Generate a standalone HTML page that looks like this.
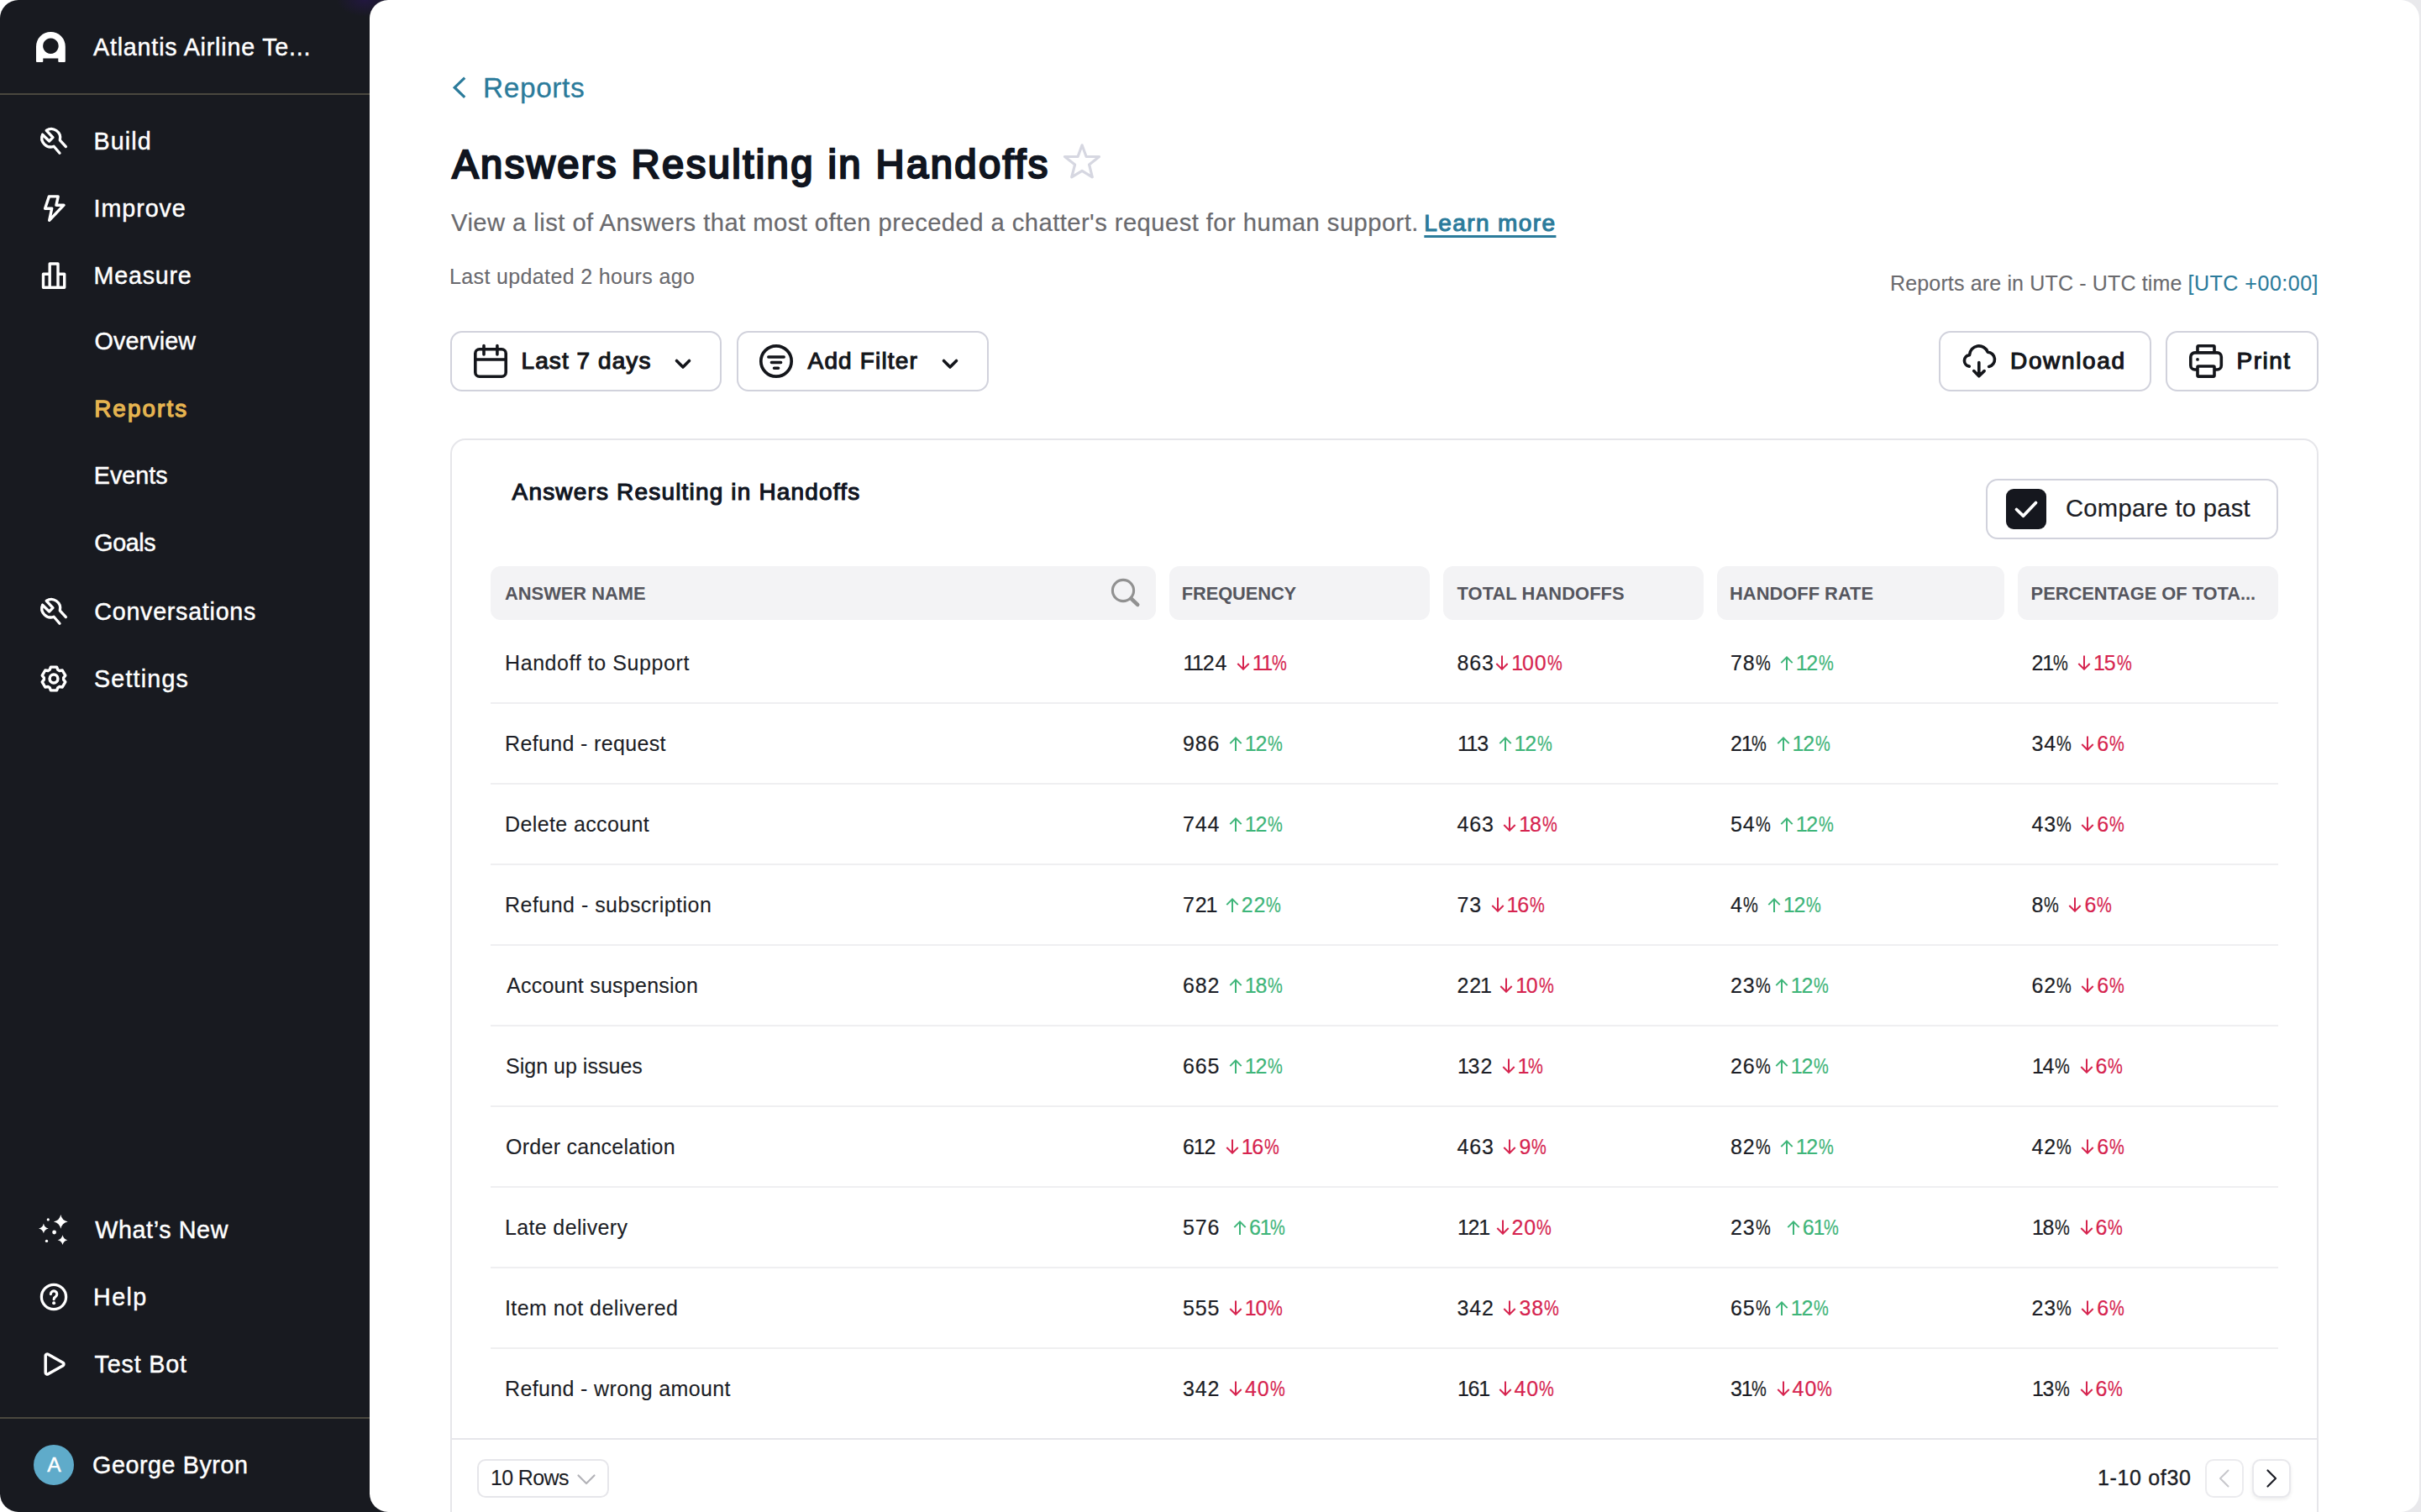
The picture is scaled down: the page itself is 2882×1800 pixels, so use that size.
<!DOCTYPE html>
<html lang="en"><head><meta charset="utf-8"><title>Answers Resulting in Handoffs</title>
<style>
html,body{margin:0;padding:0}
body{width:2882px;height:1800px;overflow:hidden;position:relative;background:#fff;font-family:"Liberation Sans", sans-serif;}
#bg{position:absolute;left:0;top:0;width:2882px;height:1800px;background:#e9e9ec;}
#side{position:absolute;left:0;top:0;width:470px;height:1800px;background:#181a20;border-radius:22px 0 0 22px;}
#glow{position:absolute;left:400px;top:0;width:70px;height:20px;background:radial-gradient(ellipse at 50% 0%,rgba(45,20,100,.45),rgba(45,20,100,0) 70%);}
#main{position:absolute;left:440px;top:0;width:2440px;height:1800px;background:#fff;border-radius:22px 22px 22px 22px;}
.hr{position:absolute;left:0;width:440px;height:2px;background:#4a473f;}
.t{position:absolute;white-space:pre;line-height:60px;}
.w{-webkit-text-stroke:0.45px #fff;}
.b{position:absolute;box-sizing:border-box;}
.i{position:absolute;overflow:visible;}
.c{position:absolute;white-space:pre;font-size:25.0px;line-height:60px;color:#1c1e26;letter-spacing:0.9px;-webkit-text-stroke:0.2px;}
.c .ar{display:inline-block;vertical-align:baseline;}
.o{margin:0 -2.1px;}
.o.f{margin-left:0.4px;}
.pc{display:inline-block;transform:scaleX(.8);transform-origin:0 50%;margin-right:-4.5px;}
#av{position:absolute;left:40px;top:1720px;width:48px;height:48px;border-radius:50%;background:#5fabca;}
</style></head><body>
<div id="bg"></div>
<div id="corner" style="position:absolute;left:0;top:0;width:40px;height:1800px;background:#fff"></div>
<div id="side"></div><div id="glow"></div>
<div class="hr" style="top:111px"></div><div class="hr" style="top:1687px"></div>
<div id="av"></div>
<div id="main"></div>
<div class="b" style="left:536px;top:394px;width:323px;height:72px;border:2px solid #d1d2dc;border-radius:14px;background:#fff;"></div>
<div class="b" style="left:877px;top:394px;width:300px;height:72px;border:2px solid #d1d2dc;border-radius:14px;background:#fff;"></div>
<div class="b" style="left:2308px;top:394px;width:253px;height:72px;border:2px solid #d1d2dc;border-radius:14px;background:#fff;"></div>
<div class="b" style="left:2578px;top:394px;width:182px;height:72px;border:2px solid #d1d2dc;border-radius:14px;background:#fff;"></div>
<div class="b" style="left:536px;top:522px;width:2224px;height:1300px;border:2px solid #e6e6ea;border-radius:18px;background:#fff;"></div>
<div class="b" style="left:2364px;top:570px;width:348px;height:72px;border:2px solid #d1d2dc;border-radius:14px;background:#fff;"></div>
<div class="b" style="left:2388px;top:582px;width:48px;height:48px;border-radius:9px;background:#15171e;"></div>
<div class="b" style="left:584px;top:674px;width:792px;height:64px;border-radius:12px;background:#f3f3f5;"></div>
<div class="b" style="left:1392px;top:674px;width:310px;height:64px;border-radius:12px;background:#f3f3f5;"></div>
<div class="b" style="left:1718px;top:674px;width:310px;height:64px;border-radius:12px;background:#f3f3f5;"></div>
<div class="b" style="left:2044px;top:674px;width:342px;height:64px;border-radius:12px;background:#f3f3f5;"></div>
<div class="b" style="left:2402px;top:674px;width:310px;height:64px;border-radius:12px;background:#f3f3f5;"></div>
<div class="b" style="left:584px;top:836px;width:2128px;height:2px;background:#efeff1;"></div>
<div class="b" style="left:584px;top:932px;width:2128px;height:2px;background:#efeff1;"></div>
<div class="b" style="left:584px;top:1028px;width:2128px;height:2px;background:#efeff1;"></div>
<div class="b" style="left:584px;top:1124px;width:2128px;height:2px;background:#efeff1;"></div>
<div class="b" style="left:584px;top:1220px;width:2128px;height:2px;background:#efeff1;"></div>
<div class="b" style="left:584px;top:1316px;width:2128px;height:2px;background:#efeff1;"></div>
<div class="b" style="left:584px;top:1412px;width:2128px;height:2px;background:#efeff1;"></div>
<div class="b" style="left:584px;top:1508px;width:2128px;height:2px;background:#efeff1;"></div>
<div class="b" style="left:584px;top:1604px;width:2128px;height:2px;background:#efeff1;"></div>
<div class="b" style="left:538px;top:1712px;width:2220px;height:2px;background:#e6e6ea;"></div>
<div class="b" style="left:568px;top:1737px;width:157px;height:46px;border:2px solid #e6e6ea;border-radius:10px;background:#fff;"></div>
<div class="b" style="left:2625px;top:1737px;width:46px;height:46px;border:2px solid #ebebee;border-radius:10px;background:#fff;"></div>
<div class="b" style="left:2681px;top:1737px;width:46px;height:46px;border:2px solid #e8e8ec;border-radius:10px;background:#fff;box-shadow:0 2px 4px rgba(0,0,0,.08);"></div>
<svg class="i" style="left:42.8px;top:37.8px" width="34.8" height="36" viewBox="0 0 34.8 36"><path fill-rule="evenodd" fill="#fff" d="M0 35 V17.4 A17.4 17.4 0 0 1 34.8 17.4 V35 a1 1 0 0 1 -1 1 H27.3 a1 1 0 0 1 -1 -1 V31.4 H8.3 V35 a1 1 0 0 1 -1 1 H1 a1 1 0 0 1 -1 -1 Z M17.4 7.4 a9.3 9.3 0 1 0 0.001 0 Z"/></svg>
<svg class="i" style="left:48px;top:152px" width="32" height="32" viewBox="0 0 32 32"><path d="M7.2 3.3 A10.6 10.6 0 0 1 23.3 14.8 L30.4 22.6 M2.6 8.2 A10.6 10.6 0 0 0 16.1 22.2 L23 30.3 M2.6 8.2 L10.6 16 L15 11.6 L7.2 3.3" fill="none" stroke="#fff" stroke-width="3.3" stroke-linecap="round" stroke-linejoin="round"/></svg>
<svg class="i" style="left:48px;top:232px" width="32" height="32" viewBox="0 0 32 32"><path d="M10.4 1.9 H21.2 L19 12.2 H28 L10.7 30.3 L13.7 16.2 H5.6 Z" fill="none" stroke="#fff" stroke-width="3.4" stroke-linejoin="round"/></svg>
<svg class="i" style="left:48px;top:312px" width="32" height="32" viewBox="0 0 32 32"><path d="M3.5 30.3 V14.3 H11.2 V2 H21 V14.3 H28.7 V30.3 Z M11.2 14.3 V30.3 M21 14.3 V30.3" fill="none" stroke="#fff" stroke-width="3.4" stroke-linejoin="round"/></svg>
<svg class="i" style="left:48px;top:712px" width="32" height="32" viewBox="0 0 32 32"><path d="M7.2 3.3 A10.6 10.6 0 0 1 23.3 14.8 L30.4 22.6 M2.6 8.2 A10.6 10.6 0 0 0 16.1 22.2 L23 30.3 M2.6 8.2 L10.6 16 L15 11.6 L7.2 3.3" fill="none" stroke="#fff" stroke-width="3.3" stroke-linecap="round" stroke-linejoin="round"/></svg>
<svg class="i" style="left:48px;top:792px" width="32" height="32" viewBox="0 0 32 32"><path d="M11.15 5.35 L12.42 2.16 L19.58 2.16 L20.85 5.35 L22.79 6.47 L26.20 5.98 L29.78 12.18 L27.65 14.88 L27.65 17.12 L29.78 19.82 L26.20 26.02 L22.79 25.53 L20.85 26.65 L19.58 29.84 L12.42 29.84 L11.15 26.65 L9.21 25.53 L5.80 26.02 L2.22 19.82 L4.35 17.12 L4.35 14.88 L2.22 12.18 L5.80 5.98 L9.21 6.47 Z" fill="none" stroke="#fff" stroke-width="3.4" stroke-linejoin="round"/><circle cx="16" cy="16" r="4.9" fill="none" stroke="#fff" stroke-width="3.5"/></svg>
<svg class="i" style="left:44px;top:1444px" width="40" height="40" viewBox="0 0 40 40"><path d="M28.3 2.0 Q29.728 8.972 36.7 10.4 Q29.728 11.828000000000001 28.3 18.8 Q26.872 11.828000000000001 19.9 10.4 Q26.872 8.972 28.3 2.0 Z" fill="#fff"/><path d="M7.9 12.499999999999998 Q8.903 17.397 13.8 18.4 Q8.903 19.403 7.9 24.299999999999997 Q6.897 19.403 2.0 18.4 Q6.897 17.397 7.9 12.499999999999998 Z" fill="#fff"/><path d="M30.5 26.300000000000004 Q31.503 31.197000000000003 36.4 32.2 Q31.503 33.203 30.5 38.1 Q29.497 33.203 24.6 32.2 Q29.497 31.197000000000003 30.5 26.300000000000004 Z" fill="#fff"/><circle cx="13.3" cy="7.9" r="1.6" fill="#fff"/><circle cx="20.6" cy="23" r="2.4" fill="#fff"/><circle cx="11.5" cy="33.4" r="1.7" fill="#fff"/></svg>
<svg class="i" style="left:48px;top:1528px" width="32" height="32" viewBox="0 0 32 32"><circle cx="16" cy="16" r="14.6" fill="none" stroke="#fff" stroke-width="3.3"/><path d="M12.4 12.6 a3.7 3.7 0 1 1 5.6 3.2 c-1.3 .8 -1.9 1.5 -1.9 2.9" fill="none" stroke="#fff" stroke-width="3.1" stroke-linecap="round"/><circle cx="16.1" cy="23.3" r="2" fill="#fff"/></svg>
<svg class="i" style="left:48px;top:1608px" width="32" height="32" viewBox="0 0 32 32"><path d="M6.2 5.9 V26.1 a2 2 0 0 0 3 1.7 L27 17.7 a2 2 0 0 0 0 -3.4 L9.2 4.2 A2 2 0 0 0 6.2 5.9 Z" fill="none" stroke="#fff" stroke-width="3.5" stroke-linejoin="round"/></svg>
<svg class="i" style="left:536px;top:88px" width="24" height="32" viewBox="0 0 24 32"><path d="M17.2 4.6 L5.2 16.2 L17.2 27.8" fill="none" stroke="#2b7b9b" stroke-width="3.2" stroke-linecap="butt" stroke-linejoin="miter"/></svg>
<svg class="i" style="left:1264px;top:168px" width="48" height="48" viewBox="0 0 48 48"><path d="M24.1 4.8 L29.1 18.5 L44.5 18.5 L32.6 28 L36.3 42.8 L24.1 35.4 L11.7 42.8 L15.6 28 L3.5 18.5 L19.1 18.5 Z" fill="none" stroke="#d6d7e1" stroke-width="3.2" stroke-linejoin="round"/></svg>
<svg class="i" style="left:560px;top:406px" width="48" height="48" viewBox="0 0 48 48"><rect x="5.8" y="9.7" width="36.4" height="32.5" rx="5" fill="none" stroke="#14161b" stroke-width="3.6"/><path d="M5.8 22 H42.2 M16 5.6 V16 M31.9 5.6 V16" fill="none" stroke="#14161b" stroke-width="3.6" stroke-linecap="round"/></svg>
<svg class="i" style="left:900px;top:406px" width="48" height="48" viewBox="0 0 48 48"><circle cx="24" cy="24" r="18.2" fill="none" stroke="#14161b" stroke-width="3.7"/><path d="M14.8 19 H33.2 M18.4 25.6 H29.6 M21.5 32.3 H26.6" stroke="#14161b" stroke-width="3.5" stroke-linecap="round"/></svg>
<svg class="i" style="left:802.5px;top:426.5px" width="20" height="13" viewBox="0 0 20 13"><path d="M2.5 2.5 L10 10 L17.5 2.5" fill="none" stroke="#14161b" stroke-width="3.6" stroke-linecap="round" stroke-linejoin="round"/></svg>
<svg class="i" style="left:1120.5px;top:426.5px" width="20" height="13" viewBox="0 0 20 13"><path d="M2.5 2.5 L10 10 L17.5 2.5" fill="none" stroke="#14161b" stroke-width="3.6" stroke-linecap="round" stroke-linejoin="round"/></svg>
<svg class="i" style="left:2334px;top:408px" width="44" height="44" viewBox="0 0 44 44"><path d="M10.3 28.1 A6.8 6.8 0 0 1 10.5 14.6 A11.2 11.2 0 0 1 32.2 11.2 A8.7 8.7 0 0 1 33.6 28.4 M21.8 23.6 V39.6 M15.7 33.6 L21.8 39.8 L28.1 33.6" fill="none" stroke="#14161b" stroke-width="3.6" stroke-linecap="round" stroke-linejoin="round"/></svg>
<svg class="i" style="left:2602px;top:406px" width="48" height="48" viewBox="0 0 48 48"><path d="M14 34 H10.8 a5 5 0 0 1 -5 -5 V18.9 a5 5 0 0 1 5 -5 H37.3 a5 5 0 0 1 5 5 V29 a5 5 0 0 1 -5 5 H34" fill="none" stroke="#14161b" stroke-width="3.6"/><path d="M14 13.9 V6.8 a1 1 0 0 1 1 -1 H33 a1 1 0 0 1 1 1 V13.9" fill="none" stroke="#14161b" stroke-width="3.6"/><rect x="14" y="30" width="20" height="12.1" rx="1" fill="#fff" stroke="#14161b" stroke-width="3.6"/><circle cx="14" cy="21.9" r="1.9" fill="#14161b"/></svg>
<svg class="i" style="left:1318px;top:684px" width="42" height="42" viewBox="0 0 42 42"><circle cx="19" cy="19" r="12.6" fill="none" stroke="#919191" stroke-width="3.1"/><path d="M28.6 28.6 L36.2 35.9" stroke="#919191" stroke-width="4.6" stroke-linecap="round"/></svg>
<svg class="i" style="left:2388px;top:582px" width="48" height="48" viewBox="0 0 48 48"><path d="M12.5 24.5 L20.5 32.2 L35.5 16.5" fill="none" stroke="#fff" stroke-width="3.8" stroke-linecap="round" stroke-linejoin="round"/></svg>
<svg class="i" style="left:687px;top:1755px" width="22" height="13" viewBox="0 0 22 13"><path d="M1.5 1.5 L11 11 L20.5 1.5" fill="none" stroke="#b3b3b8" stroke-width="2.2" stroke-linecap="round" stroke-linejoin="round"/></svg>
<svg class="i" style="left:2625px;top:1737px" width="46" height="46" viewBox="0 0 46 46"><path d="M27.5 13.5 L18 23 L27.5 32.5" fill="none" stroke="#c8c8cc" stroke-width="2.1" stroke-linecap="round" stroke-linejoin="round"/></svg>
<svg class="i" style="left:2681px;top:1737px" width="46" height="46" viewBox="0 0 46 46"><path d="M18.5 13.5 L28 23 L18.5 32.5" fill="none" stroke="#1c1e26" stroke-width="2.2" stroke-linecap="round" stroke-linejoin="round"/></svg>
<div class="t w" style="left:111.00px;top:26px;font-size:28.7px;color:#ffffff;letter-spacing:0.797px;">Atlantis Airline Te...</div>
<div class="t w" style="left:111.50px;top:138px;font-size:28.7px;color:#ffffff;letter-spacing:1.116px;">Build</div>
<div class="t w" style="left:111.50px;top:218px;font-size:28.7px;color:#ffffff;letter-spacing:0.938px;">Improve</div>
<div class="t w" style="left:111.50px;top:298px;font-size:28.7px;color:#ffffff;letter-spacing:0.774px;">Measure</div>
<div class="t w" style="left:112.50px;top:376px;font-size:28.7px;color:#ffffff;letter-spacing:0.138px;">Overview</div>
<div class="t" style="left:112.13px;top:457px;font-size:27.8px;color:#e6b450;letter-spacing:2.135px;-webkit-text-stroke:1.26px #e6b450;">Reports</div>
<div class="t w" style="left:111.80px;top:536px;font-size:28.7px;color:#ffffff;letter-spacing:0.008px;">Events</div>
<div class="t w" style="left:112.30px;top:616px;font-size:28.7px;color:#ffffff;letter-spacing:-0.399px;">Goals</div>
<div class="t w" style="left:112.30px;top:698px;font-size:28.7px;color:#ffffff;letter-spacing:0.723px;">Conversations</div>
<div class="t w" style="left:112.00px;top:778px;font-size:28.7px;color:#ffffff;letter-spacing:1.170px;">Settings</div>
<div class="t w" style="left:113.20px;top:1434px;font-size:28.7px;color:#ffffff;letter-spacing:0.634px;">What’s New</div>
<div class="t w" style="left:111.00px;top:1514px;font-size:28.7px;color:#ffffff;letter-spacing:1.418px;">Help</div>
<div class="t w" style="left:112.50px;top:1594px;font-size:28.7px;color:#ffffff;letter-spacing:0.833px;">Test Bot</div>
<div class="t w" style="left:110.00px;top:1714px;font-size:28.7px;color:#ffffff;letter-spacing:0.578px;">George Byron</div>
<div class="t w" style="left:56.30px;top:1714px;font-size:24.6px;color:#ffffff;letter-spacing:0.000px;">A</div>
<div class="t" style="left:575.00px;top:75px;font-size:33.4px;color:#2b7b9b;letter-spacing:0.630px;-webkit-text-stroke:0.30px #2b7b9b;">Reports</div>
<div class="t" style="left:538.20px;top:166px;font-size:47.2px;color:#10151f;letter-spacing:2.409px;-webkit-text-stroke:2.40px #10151f;">Answers Resulting in Handoffs</div>
<div class="t" style="left:537.00px;top:235px;font-size:29.2px;color:#6a6a6e;letter-spacing:0.451px;-webkit-text-stroke:0.20px #6a6a6e;">View a list of Answers that most often preceded a chatter's request for human support.</div>
<div class="t" style="left:1695.36px;top:236px;font-size:28.0px;color:#2b7b9b;letter-spacing:1.385px;text-decoration:underline;text-decoration-thickness:2.5px;text-underline-offset:5px;-webkit-text-stroke:1.12px #2b7b9b;">Learn more</div>
<div class="t" style="left:535.00px;top:299px;font-size:25.0px;color:#6a6a6e;letter-spacing:0.363px;-webkit-text-stroke:0.10px #6a6a6e;">Last updated 2 hours ago</div>
<div class="t" style="left:2250.00px;top:307px;font-size:25.0px;color:#6a6a6e;letter-spacing:0.153px;-webkit-text-stroke:0.10px #6a6a6e;">Reports are in UTC - UTC time</div>
<div class="t" style="left:2604.50px;top:307px;font-size:25.0px;color:#2b7b9b;letter-spacing:0.515px;-webkit-text-stroke:0.10px #2b7b9b;">[UTC +00:00]</div>
<div class="t" style="left:620.56px;top:400px;font-size:28.0px;color:#14161b;letter-spacing:1.068px;-webkit-text-stroke:1.12px #14161b;">Last 7 days</div>
<div class="t" style="left:961.56px;top:400px;font-size:28.0px;color:#14161b;letter-spacing:1.154px;-webkit-text-stroke:1.12px #14161b;">Add Filter</div>
<div class="t" style="left:2393.06px;top:400px;font-size:28.0px;color:#14161b;letter-spacing:1.633px;-webkit-text-stroke:1.12px #14161b;">Download</div>
<div class="t" style="left:2662.56px;top:400px;font-size:28.0px;color:#14161b;letter-spacing:1.472px;-webkit-text-stroke:1.12px #14161b;">Print</div>
<div class="t" style="left:609.56px;top:556px;font-size:28.0px;color:#10151f;letter-spacing:1.175px;-webkit-text-stroke:1.12px #10151f;">Answers Resulting in Handoffs</div>
<div class="t" style="left:2459.00px;top:575px;font-size:29.2px;color:#1c1e26;letter-spacing:0.281px;-webkit-text-stroke:0.20px #1c1e26;">Compare to past</div>
<div class="t" style="left:601.00px;top:677px;font-size:21.9px;color:#55565e;font-weight:700;letter-spacing:-0.022px;">ANSWER NAME</div>
<div class="t" style="left:1406.80px;top:677px;font-size:21.9px;color:#55565e;font-weight:700;letter-spacing:-0.129px;">FREQUENCY</div>
<div class="t" style="left:1734.50px;top:677px;font-size:21.9px;color:#55565e;font-weight:700;letter-spacing:0.068px;">TOTAL HANDOFFS</div>
<div class="t" style="left:2059.00px;top:677px;font-size:21.9px;color:#55565e;font-weight:700;letter-spacing:0.004px;">HANDOFF RATE</div>
<div class="t" style="left:2417.60px;top:677px;font-size:21.9px;color:#55565e;font-weight:700;letter-spacing:-0.065px;">PERCENTAGE OF TOTA...</div>
<div class="t" style="left:584.00px;top:1729px;font-size:25.0px;color:#1c1e26;letter-spacing:-0.628px;-webkit-text-stroke:0.10px #1c1e26;">10 Rows</div>
<div class="t" style="left:2497.00px;top:1729px;font-size:25.0px;color:#1c1e26;letter-spacing:0.658px;-webkit-text-stroke:0.35px #1c1e26;">1-10 of30</div>
<div class="t" style="left:601.00px;top:759px;font-size:25.0px;color:#1c1e26;letter-spacing:0.584px;-webkit-text-stroke:0.10px #1c1e26;">Handoff to Support</div>
<div class="t" style="left:601.00px;top:855px;font-size:25.0px;color:#1c1e26;letter-spacing:0.355px;-webkit-text-stroke:0.10px #1c1e26;">Refund - request</div>
<div class="t" style="left:601.00px;top:951px;font-size:25.0px;color:#1c1e26;letter-spacing:0.383px;-webkit-text-stroke:0.10px #1c1e26;">Delete account</div>
<div class="t" style="left:601.00px;top:1047px;font-size:25.0px;color:#1c1e26;letter-spacing:0.479px;-webkit-text-stroke:0.10px #1c1e26;">Refund - subscription</div>
<div class="t" style="left:603.00px;top:1143px;font-size:25.0px;color:#1c1e26;letter-spacing:0.244px;-webkit-text-stroke:0.10px #1c1e26;">Account suspension</div>
<div class="t" style="left:602.00px;top:1239px;font-size:25.0px;color:#1c1e26;letter-spacing:0.016px;-webkit-text-stroke:0.10px #1c1e26;">Sign up issues</div>
<div class="t" style="left:602.00px;top:1335px;font-size:25.0px;color:#1c1e26;letter-spacing:0.267px;-webkit-text-stroke:0.10px #1c1e26;">Order cancelation</div>
<div class="t" style="left:601.00px;top:1431px;font-size:25.0px;color:#1c1e26;letter-spacing:0.354px;-webkit-text-stroke:0.10px #1c1e26;">Late delivery</div>
<div class="t" style="left:601.00px;top:1527px;font-size:25.0px;color:#1c1e26;letter-spacing:0.423px;-webkit-text-stroke:0.10px #1c1e26;">Item not delivered</div>
<div class="t" style="left:601.00px;top:1623px;font-size:25.0px;color:#1c1e26;letter-spacing:0.365px;-webkit-text-stroke:0.10px #1c1e26;">Refund - wrong amount</div>
<div class="c" style="left:1408.00px;top:759px"><span><span class="o f">1</span><span class="o">1</span>24</span> <span style="margin-left:2.65px;color:#d6244f"><svg class="ar" width="16" height="18" viewBox="0 0 16 18"><path d="M8 0.6 V16.4 M1.3 10 L8 16.7 L14.7 10" fill="none" stroke="#d6244f" stroke-width="2" stroke-linecap="butt" stroke-linejoin="miter"/></svg><span style="margin-left:2.5px"><span class="o f">1</span><span class="o">1</span><span class="pc">%</span></span></span></div>
<div class="c" style="left:1734.50px;top:759px"><span>863</span> <span style="margin-left:-6.35px;color:#d6244f"><svg class="ar" width="16" height="18" viewBox="0 0 16 18"><path d="M8 0.6 V16.4 M1.3 10 L8 16.7 L14.7 10" fill="none" stroke="#d6244f" stroke-width="2" stroke-linecap="butt" stroke-linejoin="miter"/></svg><span style="margin-left:2.5px"><span class="o f">1</span>00<span class="pc">%</span></span></span></div>
<div class="c" style="left:2060.00px;top:759px"><span>78<span class="pc">%</span></span> <span style="margin-left:2.65px;color:#3eb579"><svg class="ar" width="16" height="18" viewBox="0 0 16 18"><path d="M8 18 V2.6 M1.3 9.1 L8 2.4 L14.7 9.1" fill="none" stroke="#3eb579" stroke-width="2" stroke-linecap="butt" stroke-linejoin="miter"/></svg><span style="margin-left:2.5px"><span class="o f">1</span>2<span class="pc">%</span></span></span></div>
<div class="c" style="left:2418.50px;top:759px"><span>2<span class="o">1</span><span class="pc">%</span></span> <span style="margin-left:2.65px;color:#d6244f"><svg class="ar" width="16" height="18" viewBox="0 0 16 18"><path d="M8 0.6 V16.4 M1.3 10 L8 16.7 L14.7 10" fill="none" stroke="#d6244f" stroke-width="2" stroke-linecap="butt" stroke-linejoin="miter"/></svg><span style="margin-left:2.5px"><span class="o f">1</span>5<span class="pc">%</span></span></span></div>
<div class="c" style="left:1408.00px;top:855px"><span>986</span> <span style="margin-left:2.65px;color:#3eb579"><svg class="ar" width="16" height="18" viewBox="0 0 16 18"><path d="M8 18 V2.6 M1.3 9.1 L8 2.4 L14.7 9.1" fill="none" stroke="#3eb579" stroke-width="2" stroke-linecap="butt" stroke-linejoin="miter"/></svg><span style="margin-left:2.5px"><span class="o f">1</span>2<span class="pc">%</span></span></span></div>
<div class="c" style="left:1734.50px;top:855px"><span><span class="o f">1</span><span class="o">1</span>3</span> <span style="margin-left:2.65px;color:#3eb579"><svg class="ar" width="16" height="18" viewBox="0 0 16 18"><path d="M8 18 V2.6 M1.3 9.1 L8 2.4 L14.7 9.1" fill="none" stroke="#3eb579" stroke-width="2" stroke-linecap="butt" stroke-linejoin="miter"/></svg><span style="margin-left:2.5px"><span class="o f">1</span>2<span class="pc">%</span></span></span></div>
<div class="c" style="left:2060.00px;top:855px"><span>2<span class="o">1</span><span class="pc">%</span></span> <span style="margin-left:2.65px;color:#3eb579"><svg class="ar" width="16" height="18" viewBox="0 0 16 18"><path d="M8 18 V2.6 M1.3 9.1 L8 2.4 L14.7 9.1" fill="none" stroke="#3eb579" stroke-width="2" stroke-linecap="butt" stroke-linejoin="miter"/></svg><span style="margin-left:2.5px"><span class="o f">1</span>2<span class="pc">%</span></span></span></div>
<div class="c" style="left:2418.50px;top:855px"><span>34<span class="pc">%</span></span> <span style="margin-left:2.65px;color:#d6244f"><svg class="ar" width="16" height="18" viewBox="0 0 16 18"><path d="M8 0.6 V16.4 M1.3 10 L8 16.7 L14.7 10" fill="none" stroke="#d6244f" stroke-width="2" stroke-linecap="butt" stroke-linejoin="miter"/></svg><span style="margin-left:3px">6<span class="pc">%</span></span></span></div>
<div class="c" style="left:1408.00px;top:951px"><span>744</span> <span style="margin-left:2.65px;color:#3eb579"><svg class="ar" width="16" height="18" viewBox="0 0 16 18"><path d="M8 18 V2.6 M1.3 9.1 L8 2.4 L14.7 9.1" fill="none" stroke="#3eb579" stroke-width="2" stroke-linecap="butt" stroke-linejoin="miter"/></svg><span style="margin-left:2.5px"><span class="o f">1</span>2<span class="pc">%</span></span></span></div>
<div class="c" style="left:1734.50px;top:951px"><span>463</span> <span style="margin-left:2.65px;color:#d6244f"><svg class="ar" width="16" height="18" viewBox="0 0 16 18"><path d="M8 0.6 V16.4 M1.3 10 L8 16.7 L14.7 10" fill="none" stroke="#d6244f" stroke-width="2" stroke-linecap="butt" stroke-linejoin="miter"/></svg><span style="margin-left:2.5px"><span class="o f">1</span>8<span class="pc">%</span></span></span></div>
<div class="c" style="left:2060.00px;top:951px"><span>54<span class="pc">%</span></span> <span style="margin-left:2.65px;color:#3eb579"><svg class="ar" width="16" height="18" viewBox="0 0 16 18"><path d="M8 18 V2.6 M1.3 9.1 L8 2.4 L14.7 9.1" fill="none" stroke="#3eb579" stroke-width="2" stroke-linecap="butt" stroke-linejoin="miter"/></svg><span style="margin-left:2.5px"><span class="o f">1</span>2<span class="pc">%</span></span></span></div>
<div class="c" style="left:2418.50px;top:951px"><span>43<span class="pc">%</span></span> <span style="margin-left:2.65px;color:#d6244f"><svg class="ar" width="16" height="18" viewBox="0 0 16 18"><path d="M8 0.6 V16.4 M1.3 10 L8 16.7 L14.7 10" fill="none" stroke="#d6244f" stroke-width="2" stroke-linecap="butt" stroke-linejoin="miter"/></svg><span style="margin-left:3px">6<span class="pc">%</span></span></span></div>
<div class="c" style="left:1408.00px;top:1047px"><span>72<span class="o">1</span></span> <span style="margin-left:2.65px;color:#3eb579"><svg class="ar" width="16" height="18" viewBox="0 0 16 18"><path d="M8 18 V2.6 M1.3 9.1 L8 2.4 L14.7 9.1" fill="none" stroke="#3eb579" stroke-width="2" stroke-linecap="butt" stroke-linejoin="miter"/></svg><span style="margin-left:3px">22<span class="pc">%</span></span></span></div>
<div class="c" style="left:1734.50px;top:1047px"><span>73</span> <span style="margin-left:2.65px;color:#d6244f"><svg class="ar" width="16" height="18" viewBox="0 0 16 18"><path d="M8 0.6 V16.4 M1.3 10 L8 16.7 L14.7 10" fill="none" stroke="#d6244f" stroke-width="2" stroke-linecap="butt" stroke-linejoin="miter"/></svg><span style="margin-left:2.5px"><span class="o f">1</span>6<span class="pc">%</span></span></span></div>
<div class="c" style="left:2060.00px;top:1047px"><span>4<span class="pc">%</span></span> <span style="margin-left:2.65px;color:#3eb579"><svg class="ar" width="16" height="18" viewBox="0 0 16 18"><path d="M8 18 V2.6 M1.3 9.1 L8 2.4 L14.7 9.1" fill="none" stroke="#3eb579" stroke-width="2" stroke-linecap="butt" stroke-linejoin="miter"/></svg><span style="margin-left:2.5px"><span class="o f">1</span>2<span class="pc">%</span></span></span></div>
<div class="c" style="left:2418.50px;top:1047px"><span>8<span class="pc">%</span></span> <span style="margin-left:2.65px;color:#d6244f"><svg class="ar" width="16" height="18" viewBox="0 0 16 18"><path d="M8 0.6 V16.4 M1.3 10 L8 16.7 L14.7 10" fill="none" stroke="#d6244f" stroke-width="2" stroke-linecap="butt" stroke-linejoin="miter"/></svg><span style="margin-left:3px">6<span class="pc">%</span></span></span></div>
<div class="c" style="left:1408.00px;top:1143px"><span>682</span> <span style="margin-left:2.65px;color:#3eb579"><svg class="ar" width="16" height="18" viewBox="0 0 16 18"><path d="M8 18 V2.6 M1.3 9.1 L8 2.4 L14.7 9.1" fill="none" stroke="#3eb579" stroke-width="2" stroke-linecap="butt" stroke-linejoin="miter"/></svg><span style="margin-left:2.5px"><span class="o f">1</span>8<span class="pc">%</span></span></span></div>
<div class="c" style="left:1734.50px;top:1143px"><span>22<span class="o">1</span></span> <span style="margin-left:2.65px;color:#d6244f"><svg class="ar" width="16" height="18" viewBox="0 0 16 18"><path d="M8 0.6 V16.4 M1.3 10 L8 16.7 L14.7 10" fill="none" stroke="#d6244f" stroke-width="2" stroke-linecap="butt" stroke-linejoin="miter"/></svg><span style="margin-left:2.5px"><span class="o f">1</span>0<span class="pc">%</span></span></span></div>
<div class="c" style="left:2060.00px;top:1143px"><span>23<span class="pc">%</span></span> <span style="margin-left:-3.35px;color:#3eb579"><svg class="ar" width="16" height="18" viewBox="0 0 16 18"><path d="M8 18 V2.6 M1.3 9.1 L8 2.4 L14.7 9.1" fill="none" stroke="#3eb579" stroke-width="2" stroke-linecap="butt" stroke-linejoin="miter"/></svg><span style="margin-left:2.5px"><span class="o f">1</span>2<span class="pc">%</span></span></span></div>
<div class="c" style="left:2418.50px;top:1143px"><span>62<span class="pc">%</span></span> <span style="margin-left:2.65px;color:#d6244f"><svg class="ar" width="16" height="18" viewBox="0 0 16 18"><path d="M8 0.6 V16.4 M1.3 10 L8 16.7 L14.7 10" fill="none" stroke="#d6244f" stroke-width="2" stroke-linecap="butt" stroke-linejoin="miter"/></svg><span style="margin-left:3px">6<span class="pc">%</span></span></span></div>
<div class="c" style="left:1408.00px;top:1239px"><span>665</span> <span style="margin-left:2.65px;color:#3eb579"><svg class="ar" width="16" height="18" viewBox="0 0 16 18"><path d="M8 18 V2.6 M1.3 9.1 L8 2.4 L14.7 9.1" fill="none" stroke="#3eb579" stroke-width="2" stroke-linecap="butt" stroke-linejoin="miter"/></svg><span style="margin-left:2.5px"><span class="o f">1</span>2<span class="pc">%</span></span></span></div>
<div class="c" style="left:1734.50px;top:1239px"><span><span class="o f">1</span>32</span> <span style="margin-left:2.65px;color:#d6244f"><svg class="ar" width="16" height="18" viewBox="0 0 16 18"><path d="M8 0.6 V16.4 M1.3 10 L8 16.7 L14.7 10" fill="none" stroke="#d6244f" stroke-width="2" stroke-linecap="butt" stroke-linejoin="miter"/></svg><span style="margin-left:2.5px"><span class="o f">1</span><span class="pc">%</span></span></span></div>
<div class="c" style="left:2060.00px;top:1239px"><span>26<span class="pc">%</span></span> <span style="margin-left:-3.35px;color:#3eb579"><svg class="ar" width="16" height="18" viewBox="0 0 16 18"><path d="M8 18 V2.6 M1.3 9.1 L8 2.4 L14.7 9.1" fill="none" stroke="#3eb579" stroke-width="2" stroke-linecap="butt" stroke-linejoin="miter"/></svg><span style="margin-left:2.5px"><span class="o f">1</span>2<span class="pc">%</span></span></span></div>
<div class="c" style="left:2418.50px;top:1239px"><span><span class="o f">1</span>4<span class="pc">%</span></span> <span style="margin-left:2.65px;color:#d6244f"><svg class="ar" width="16" height="18" viewBox="0 0 16 18"><path d="M8 0.6 V16.4 M1.3 10 L8 16.7 L14.7 10" fill="none" stroke="#d6244f" stroke-width="2" stroke-linecap="butt" stroke-linejoin="miter"/></svg><span style="margin-left:3px">6<span class="pc">%</span></span></span></div>
<div class="c" style="left:1408.00px;top:1335px"><span>6<span class="o">1</span>2</span> <span style="margin-left:2.65px;color:#d6244f"><svg class="ar" width="16" height="18" viewBox="0 0 16 18"><path d="M8 0.6 V16.4 M1.3 10 L8 16.7 L14.7 10" fill="none" stroke="#d6244f" stroke-width="2" stroke-linecap="butt" stroke-linejoin="miter"/></svg><span style="margin-left:2.5px"><span class="o f">1</span>6<span class="pc">%</span></span></span></div>
<div class="c" style="left:1734.50px;top:1335px"><span>463</span> <span style="margin-left:2.65px;color:#d6244f"><svg class="ar" width="16" height="18" viewBox="0 0 16 18"><path d="M8 0.6 V16.4 M1.3 10 L8 16.7 L14.7 10" fill="none" stroke="#d6244f" stroke-width="2" stroke-linecap="butt" stroke-linejoin="miter"/></svg><span style="margin-left:3px">9<span class="pc">%</span></span></span></div>
<div class="c" style="left:2060.00px;top:1335px"><span>82<span class="pc">%</span></span> <span style="margin-left:2.65px;color:#3eb579"><svg class="ar" width="16" height="18" viewBox="0 0 16 18"><path d="M8 18 V2.6 M1.3 9.1 L8 2.4 L14.7 9.1" fill="none" stroke="#3eb579" stroke-width="2" stroke-linecap="butt" stroke-linejoin="miter"/></svg><span style="margin-left:2.5px"><span class="o f">1</span>2<span class="pc">%</span></span></span></div>
<div class="c" style="left:2418.50px;top:1335px"><span>42<span class="pc">%</span></span> <span style="margin-left:2.65px;color:#d6244f"><svg class="ar" width="16" height="18" viewBox="0 0 16 18"><path d="M8 0.6 V16.4 M1.3 10 L8 16.7 L14.7 10" fill="none" stroke="#d6244f" stroke-width="2" stroke-linecap="butt" stroke-linejoin="miter"/></svg><span style="margin-left:3px">6<span class="pc">%</span></span></span></div>
<div class="c" style="left:1408.00px;top:1431px"><span>576</span> <span style="margin-left:7.65px;color:#3eb579"><svg class="ar" width="16" height="18" viewBox="0 0 16 18"><path d="M8 18 V2.6 M1.3 9.1 L8 2.4 L14.7 9.1" fill="none" stroke="#3eb579" stroke-width="2" stroke-linecap="butt" stroke-linejoin="miter"/></svg><span style="margin-left:3px">6<span class="o">1</span><span class="pc">%</span></span></span></div>
<div class="c" style="left:1734.50px;top:1431px"><span><span class="o f">1</span>2<span class="o">1</span></span> <span style="margin-left:-0.35px;color:#d6244f"><svg class="ar" width="16" height="18" viewBox="0 0 16 18"><path d="M8 0.6 V16.4 M1.3 10 L8 16.7 L14.7 10" fill="none" stroke="#d6244f" stroke-width="2" stroke-linecap="butt" stroke-linejoin="miter"/></svg><span style="margin-left:3px">20<span class="pc">%</span></span></span></div>
<div class="c" style="left:2060.00px;top:1431px"><span>23<span class="pc">%</span></span> <span style="margin-left:10.65px;color:#3eb579"><svg class="ar" width="16" height="18" viewBox="0 0 16 18"><path d="M8 18 V2.6 M1.3 9.1 L8 2.4 L14.7 9.1" fill="none" stroke="#3eb579" stroke-width="2" stroke-linecap="butt" stroke-linejoin="miter"/></svg><span style="margin-left:3px">6<span class="o">1</span><span class="pc">%</span></span></span></div>
<div class="c" style="left:2418.50px;top:1431px"><span><span class="o f">1</span>8<span class="pc">%</span></span> <span style="margin-left:2.65px;color:#d6244f"><svg class="ar" width="16" height="18" viewBox="0 0 16 18"><path d="M8 0.6 V16.4 M1.3 10 L8 16.7 L14.7 10" fill="none" stroke="#d6244f" stroke-width="2" stroke-linecap="butt" stroke-linejoin="miter"/></svg><span style="margin-left:3px">6<span class="pc">%</span></span></span></div>
<div class="c" style="left:1408.00px;top:1527px"><span>555</span> <span style="margin-left:2.65px;color:#d6244f"><svg class="ar" width="16" height="18" viewBox="0 0 16 18"><path d="M8 0.6 V16.4 M1.3 10 L8 16.7 L14.7 10" fill="none" stroke="#d6244f" stroke-width="2" stroke-linecap="butt" stroke-linejoin="miter"/></svg><span style="margin-left:2.5px"><span class="o f">1</span>0<span class="pc">%</span></span></span></div>
<div class="c" style="left:1734.50px;top:1527px"><span>342</span> <span style="margin-left:2.65px;color:#d6244f"><svg class="ar" width="16" height="18" viewBox="0 0 16 18"><path d="M8 0.6 V16.4 M1.3 10 L8 16.7 L14.7 10" fill="none" stroke="#d6244f" stroke-width="2" stroke-linecap="butt" stroke-linejoin="miter"/></svg><span style="margin-left:3px">38<span class="pc">%</span></span></span></div>
<div class="c" style="left:2060.00px;top:1527px"><span>65<span class="pc">%</span></span> <span style="margin-left:-3.35px;color:#3eb579"><svg class="ar" width="16" height="18" viewBox="0 0 16 18"><path d="M8 18 V2.6 M1.3 9.1 L8 2.4 L14.7 9.1" fill="none" stroke="#3eb579" stroke-width="2" stroke-linecap="butt" stroke-linejoin="miter"/></svg><span style="margin-left:2.5px"><span class="o f">1</span>2<span class="pc">%</span></span></span></div>
<div class="c" style="left:2418.50px;top:1527px"><span>23<span class="pc">%</span></span> <span style="margin-left:2.65px;color:#d6244f"><svg class="ar" width="16" height="18" viewBox="0 0 16 18"><path d="M8 0.6 V16.4 M1.3 10 L8 16.7 L14.7 10" fill="none" stroke="#d6244f" stroke-width="2" stroke-linecap="butt" stroke-linejoin="miter"/></svg><span style="margin-left:3px">6<span class="pc">%</span></span></span></div>
<div class="c" style="left:1408.00px;top:1623px"><span>342</span> <span style="margin-left:2.65px;color:#d6244f"><svg class="ar" width="16" height="18" viewBox="0 0 16 18"><path d="M8 0.6 V16.4 M1.3 10 L8 16.7 L14.7 10" fill="none" stroke="#d6244f" stroke-width="2" stroke-linecap="butt" stroke-linejoin="miter"/></svg><span style="margin-left:3px">40<span class="pc">%</span></span></span></div>
<div class="c" style="left:1734.50px;top:1623px"><span><span class="o f">1</span>6<span class="o">1</span></span> <span style="margin-left:2.65px;color:#d6244f"><svg class="ar" width="16" height="18" viewBox="0 0 16 18"><path d="M8 0.6 V16.4 M1.3 10 L8 16.7 L14.7 10" fill="none" stroke="#d6244f" stroke-width="2" stroke-linecap="butt" stroke-linejoin="miter"/></svg><span style="margin-left:3px">40<span class="pc">%</span></span></span></div>
<div class="c" style="left:2060.00px;top:1623px"><span>3<span class="o">1</span><span class="pc">%</span></span> <span style="margin-left:2.65px;color:#d6244f"><svg class="ar" width="16" height="18" viewBox="0 0 16 18"><path d="M8 0.6 V16.4 M1.3 10 L8 16.7 L14.7 10" fill="none" stroke="#d6244f" stroke-width="2" stroke-linecap="butt" stroke-linejoin="miter"/></svg><span style="margin-left:3px">40<span class="pc">%</span></span></span></div>
<div class="c" style="left:2418.50px;top:1623px"><span><span class="o f">1</span>3<span class="pc">%</span></span> <span style="margin-left:2.65px;color:#d6244f"><svg class="ar" width="16" height="18" viewBox="0 0 16 18"><path d="M8 0.6 V16.4 M1.3 10 L8 16.7 L14.7 10" fill="none" stroke="#d6244f" stroke-width="2" stroke-linecap="butt" stroke-linejoin="miter"/></svg><span style="margin-left:3px">6<span class="pc">%</span></span></span></div>
<script>(function(){var w=window.innerWidth;if(w&&(w<2800||w>2960)){document.body.style.zoom=(w/2882);}})();</script>
</body></html>
